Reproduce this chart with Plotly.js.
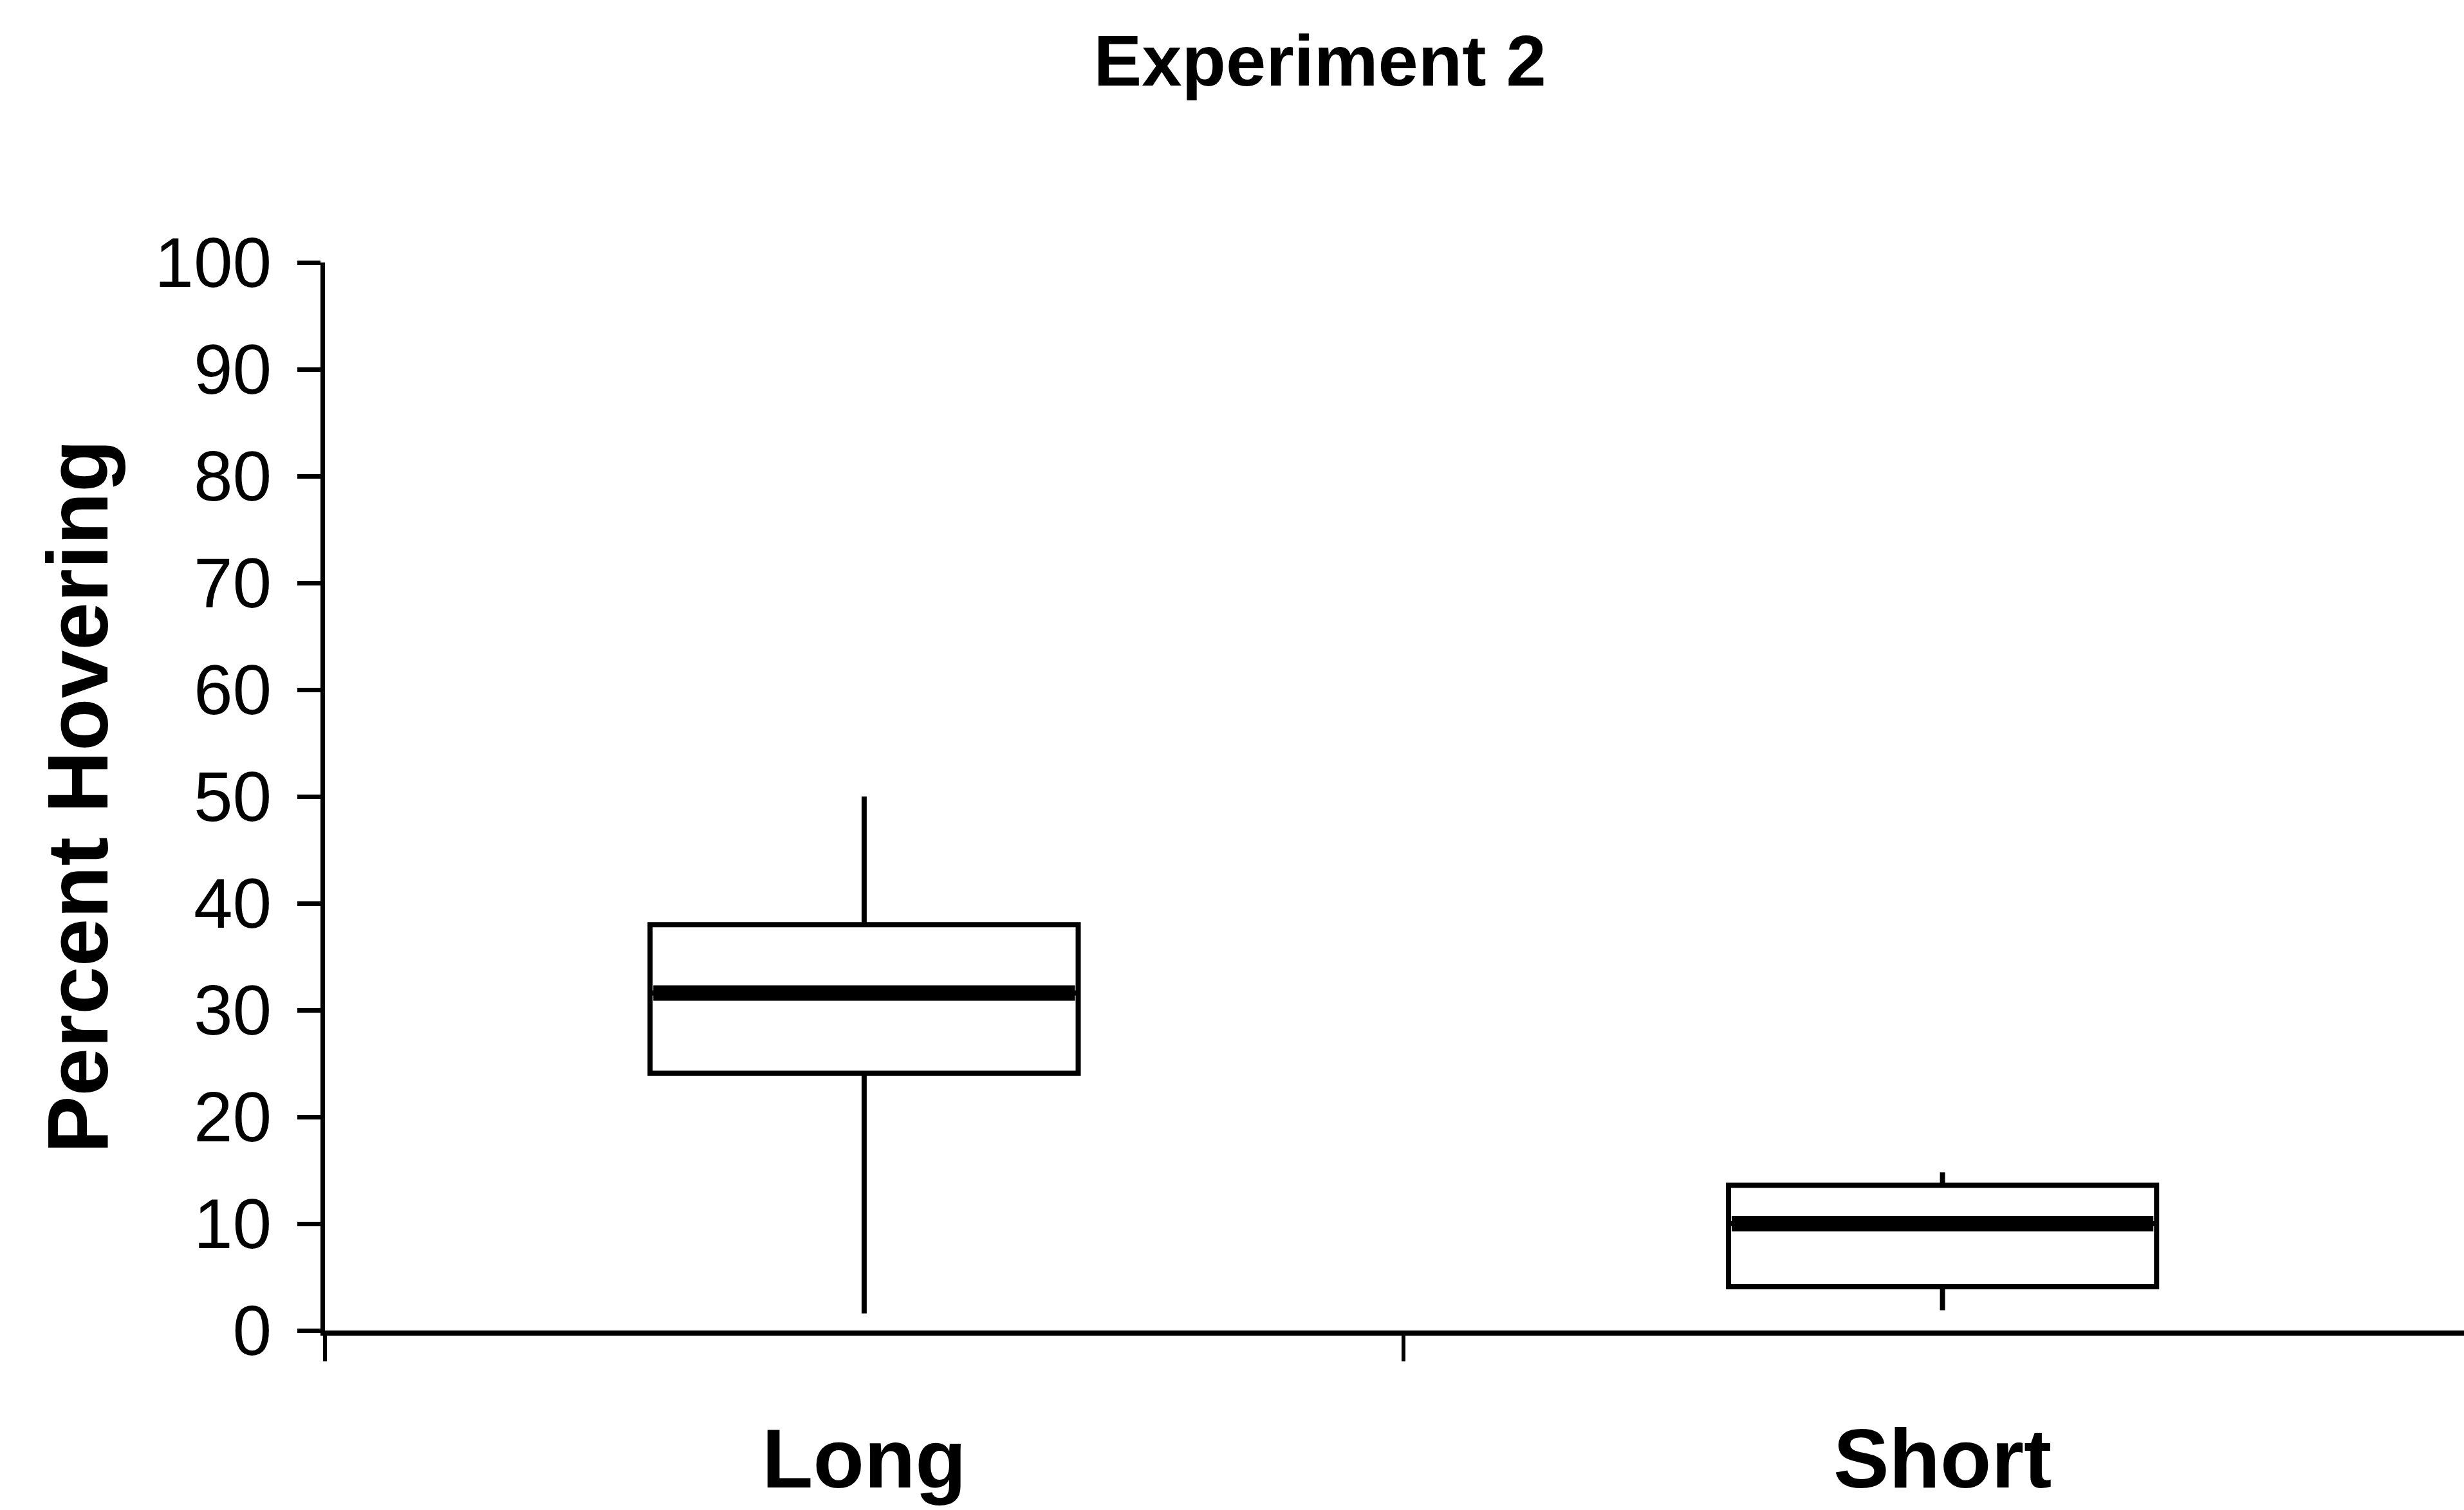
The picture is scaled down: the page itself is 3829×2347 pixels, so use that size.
<!DOCTYPE html>
<html>
<head>
<meta charset="utf-8">
<script src="https://cdn.plot.ly/plotly-3.0.1.min.js"></script>
<style>html,body{margin:0;padding:0;background:#fff;}#chart{width:3829px;height:2347px;}</style>
</head>
<body>
<div id="chart"></div>
<script>
// Data
var categories = ['Long', 'Short'];
var lowerWhisker = [1.6, 1.9];
var q1Values = [24.1, 4.1];
var medianValues = [31.6, 10.0];
var q3Values = [38.0, 13.6];
var upperWhisker = [50.0, 14.8];
var yTickValues = [0, 10, 20, 30, 40, 50, 60, 70, 80, 90, 100];

var FONT = 'Liberation Sans, Arial, Helvetica, sans-serif';
var BOX_WIDTH = 0.397;

var boxTrace = {
  type: 'box',
  x: categories,
  q1: q1Values,
  median: medianValues,
  q3: q3Values,
  lowerfence: lowerWhisker,
  upperfence: upperWhisker,
  width: BOX_WIDTH,
  whiskerwidth: 0,
  fillcolor: 'rgba(255,255,255,0)',
  line: {color: '#000000', width: 8},
  boxpoints: false,
  hoverinfo: 'skip',
  showlegend: false
};

// thick median bar, drawn as a zero-height box at each median
var medianTrace = {
  type: 'box',
  x: categories,
  q1: medianValues,
  median: medianValues,
  q3: medianValues,
  lowerfence: medianValues,
  upperfence: medianValues,
  width: BOX_WIDTH * 0.985,
  whiskerwidth: 0,
  fillcolor: 'rgba(255,255,255,0)',
  line: {color: '#000000', width: 24},
  boxpoints: false,
  hoverinfo: 'skip',
  showlegend: false
};

var layout = {
  width: 3829,
  height: 2347,
  paper_bgcolor: '#ffffff',
  plot_bgcolor: '#ffffff',
  margin: {l: 505, r: 0, t: 408, b: 279, pad: 0},
  boxmode: 'overlay',
  showlegend: false,
  font: {family: FONT, color: '#000000'},
  title: {
    text: 'Experiment 2',
    font: {family: FONT, size: 112, weight: 'bold', color: '#000000'},
    xref: 'container', x: 0.5357, xanchor: 'center',
    yref: 'container', y: 0.960, yanchor: 'middle'
  },
  xaxis: {
    type: 'category',
    range: [-0.5, 1.4836],
    showgrid: false,
    zeroline: false,
    showline: true,
    linecolor: '#000000',
    linewidth: 8,
    ticks: 'outside',
    tickson: 'boundaries',
    ticklen: 40,
    tickwidth: 6,
    tickcolor: '#000000',
    ticklabelstandoff: 80,
    tickfont: {family: FONT, size: 130, weight: 'bold', color: '#000000'}
  },
  yaxis: {
    range: [0, 100],
    tickmode: 'array',
    tickvals: yTickValues,
    ticktext: yTickValues.map(String),
    showgrid: false,
    zeroline: false,
    showline: true,
    linecolor: '#000000',
    linewidth: 7,
    ticks: 'outside',
    ticklen: 36,
    tickwidth: 7,
    tickcolor: '#000000',
    ticklabelstandoff: 18,
    tickfont: {family: FONT, size: 109, color: '#000000'},
    title: {
      text: 'Percent Hovering',
      font: {family: FONT, size: 134, weight: 'bold', color: '#000000'},
      standoff: 30
    }
  }
};

Plotly.newPlot('chart', [boxTrace, medianTrace], layout, {displayModeBar: false, staticPlot: true});
</script>
</body>
</html>
